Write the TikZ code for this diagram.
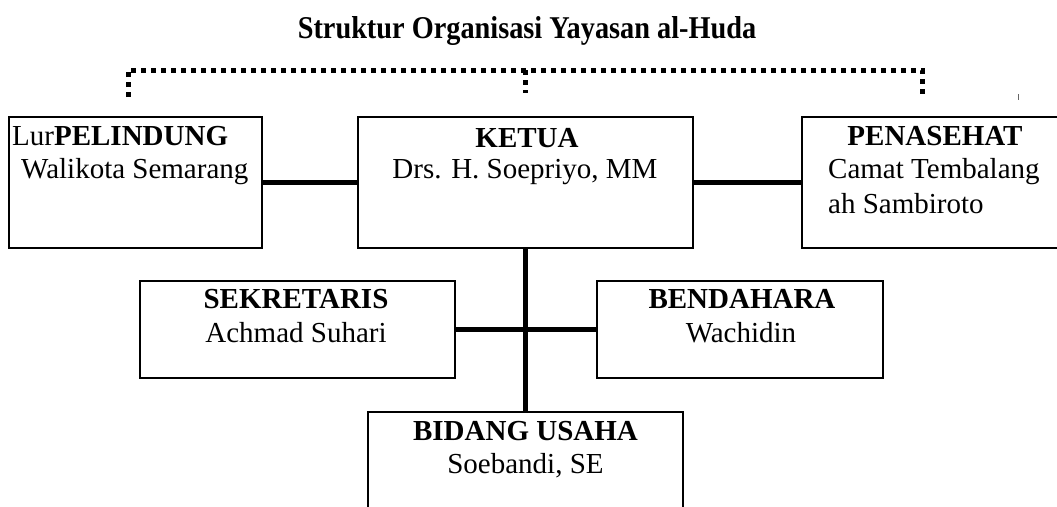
\documentclass[tikz,border=0pt]{standalone}
\usepackage{fontspec}
\setmainfont{Liberation Serif}
\begin{document}
\begin{tikzpicture}[x=1pt,y=-1pt,
  orgbox/.style={draw, line width=1.3pt, rectangle, inner sep=0pt, outer sep=0pt},
  txt/.style={inner sep=0pt, font=\fontsize{29}{33}\selectfont, anchor=base},
  txtl/.style={txt, anchor=base west},
  hd/.style={txt, font=\fontsize{29}{33}\selectfont\bfseries},
  conn/.style={line width=5pt},
  dotline/.style={line width=5pt, dash pattern=on 5pt off 5pt}]
\useasboundingbox (0,0) rectangle (1057,506);
% title
\node[txt, font=\fontsize{28.3}{32}\selectfont\bfseries] (title) at (527,38) {\scalebox{1}[1.12]{Struktur Organisasi Yayasan al-Huda}};
% boxes
\node[orgbox, minimum width=253pt, minimum height=131pt] (pel) at (135.5,182.5) {};
\node[orgbox, minimum width=335pt, minimum height=131pt] (ket) at (525.5,182.5) {};
\node[orgbox, minimum width=268pt, minimum height=131pt] (pen) at (936,182.5) {};
\node[orgbox, minimum width=315pt, minimum height=97pt] (sek) at (297.5,329.5) {};
\node[orgbox, minimum width=286pt, minimum height=97pt] (ben) at (740,329.5) {};
\node[orgbox, minimum width=315pt, minimum height=118pt] (bid) at (525.5,471) {};
% texts
\node[txtl] (pelh) at (12,145) {Lur\textbf{PELINDUNG}};
\node[txtl] (pelt) at (21,178) {Walikota Semarang};
\node[hd] (keth) at (527,147) {KETUA};
\node[txt] (kett) at (525,178) {Drs. H. Soepriyo, MM};
\node[hd] (penh) at (935,145) {PENASEHAT};
\node[txtl] (pent) at (828,178) {Camat Tembalang};
\node[txtl] (pent2) at (828,213) {ah Sambiroto};
\node[hd] (sekh) at (296,308) {SEKRETARIS};
\node[txt] (sekt) at (296,342) {Achmad Suhari};
\node[hd] (benh) at (742,308) {BENDAHARA};
\node[txt] (bent) at (741,342) {Wachidin};
\node[hd] (bidh) at (525.5,440) {BIDANG USAHA};
\node[txt] (bidt) at (525.5,473) {Soebandi, SE};
% solid connectors
\draw[conn] (pel.east) -- (ket.west);
\draw[conn] (ket.east) -- (pen.west);
\draw[conn] (ket.south) -- (bid.north);
\draw[conn] (sek.east) -- (ben.west);
% dotted bracket
\coordinate (dl) at (128,97);
\coordinate (dtl) at (128,70);
\coordinate (dtr) at (922,70);
\coordinate (dr) at (922,97);
\coordinate (dmt) at (525,70);
\coordinate (dm) at (525,93);
\draw[dotline] (dl) -- (dtl) -- (dtr) -- (dr);
\draw[dotline] (dmt) -- (dm);
% small tick
\coordinate (tk1) at (1018,94);
\coordinate (tk2) at (1018,100);
\draw[line width=1pt, black!60] (tk1) -- (tk2);
\end{tikzpicture}
\end{document}
